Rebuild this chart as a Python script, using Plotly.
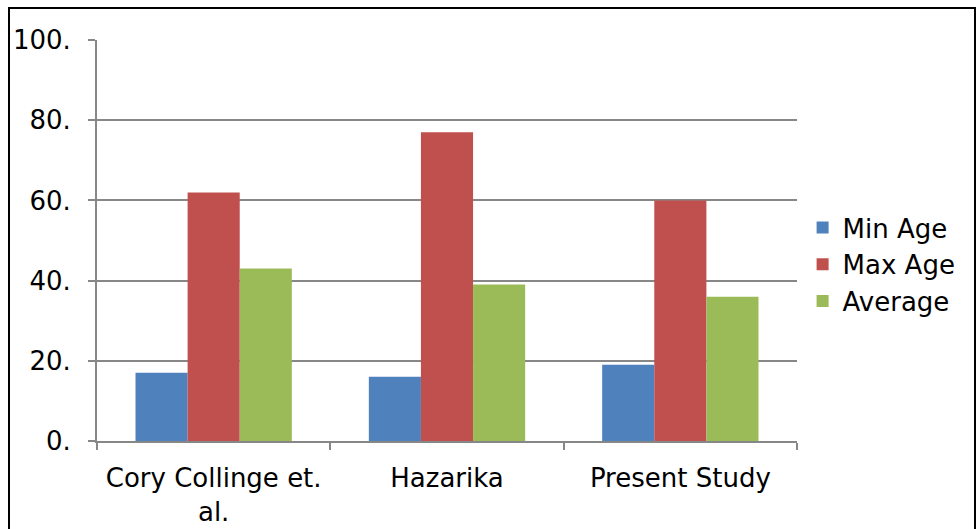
import plotly.graph_objects as go

categories = ["Cory Collinge et.<br>al.", "Hazarika", "Present Study"]
min_age = [17, 16, 19]
max_age = [62, 77, 60]
average = [43, 39, 36]
series_names = ["Min Age", "Max Age", "Average"]
colors = ["#4F81BD", "#C0504D", "#9BBB59"]
ytick_vals = [0, 20, 40, 60, 80, 100]
ytick_text = ["0.", "20.", "40.", "60.", "80.", "100."]

W, H = 979, 529
L, T = 97, 40
pw, ph = 700, 401
R, B = W - L - pw, H - T - ph

fig = go.Figure()
for name, vals, c in zip(series_names, [min_age, max_age, average], colors):
    fig.add_trace(go.Bar(x=categories, y=vals, name=name, marker=dict(color=c, line=dict(width=0))))

font = dict(family="DejaVu Sans, Verdana, sans-serif", size=26, color="#000000")
grid = "#878787"

fig.update_layout(
    width=W, height=H,
    margin=dict(l=L, r=R, t=T, b=B, pad=0, autoexpand=False),
    barmode="group", bargap=0.33, bargroupgap=0,
    plot_bgcolor="white", paper_bgcolor="white",
    font=font,
    showlegend=True,
    legend=dict(x=1.008, y=0.44, xanchor="left", yanchor="middle", font=font,
                tracegroupgap=0, itemwidth=30, bgcolor="rgba(0,0,0,0)"),
    xaxis=dict(showline=True, linecolor=grid, linewidth=2, ticks="outside", tickson="boundaries",
               ticklen=7, tickcolor=grid, tickwidth=2, tickfont=font, showgrid=False,
               ticklabelstandoff=13, automargin=False),
    yaxis=dict(range=[0, 100], tickvals=ytick_vals, ticktext=ytick_text, showline=True, linecolor=grid,
               linewidth=2, ticks="outside", ticklen=7, tickcolor=grid, tickwidth=2,
               gridcolor=grid, gridwidth=2, tickfont=font, zeroline=False, ticklabelstandoff=12,
               automargin=False),
)

# outer border around the chart
x0 = (9 - L) / pw
x1 = (975 - L) / pw
y1 = (H - B - 8) / ph
y0 = (H - B - 540) / ph
fig.add_shape(type="rect", xref="paper", yref="paper", x0=x0, x1=x1, y0=y0, y1=y1,
              line=dict(color="black", width=2), fillcolor="rgba(0,0,0,0)", layer="below")

fig.write_html(
    "out.html",
    config={"displayModeBar": False},
    post_script="document.body.style.margin='0';document.body.style.overflow='hidden';",
)
